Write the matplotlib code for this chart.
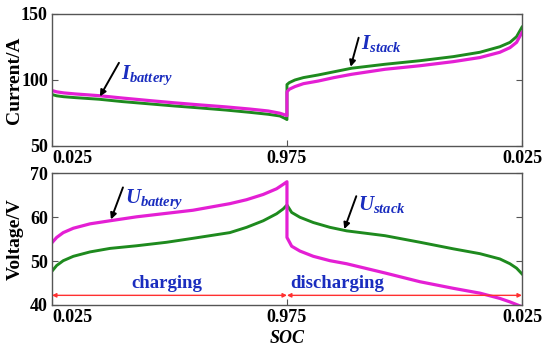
import matplotlib
matplotlib.use("Agg")
import matplotlib.pyplot as plt

# x position: 0 -> 1 is charging (SOC 0.025 -> 0.975), 1 -> 2 is discharging (SOC 0.975 -> 0.025)
tick_pos = [0, 1, 2]
tick_labels = ["0.025", "0.975", "0.025"]

# current panel (A)
i_x = [0, 0.02, 0.05, 0.1, 0.2, 0.3, 0.42, 0.52, 0.63, 0.74, 0.84, 0.92, 0.97, 0.99, 1.0,
       1.0, 1.01, 1.034, 1.07, 1.133, 1.2, 1.275, 1.417, 1.566, 1.708, 1.821, 1.906,
       1.949, 1.977, 2.0]
i_batt = [92.0, 91.0, 90.2, 89.4, 88.1, 86.3, 84.3, 82.7, 81.1, 79.6, 78.0, 76.5, 74.8, 73.6, 73.0,
          91.0, 93.0, 95.0, 97.2, 99.2, 101.8, 104.3, 108.1, 110.8, 113.9, 117.0, 121.0,
          124.5, 128.5, 136.0]
i_stack = [89.0, 88.0, 87.3, 86.6, 85.4, 83.6, 81.8, 80.3, 78.8, 77.2, 75.5, 74.0, 72.7, 71.0, 70.0,
           96.5, 98.0, 100.0, 101.8, 103.8, 106.2, 108.9, 111.9, 114.6, 117.7, 121.0, 125.2,
           128.5, 132.8, 140.0]

# voltage panel (V)
u_batt_x = [0, 0.02, 0.048, 0.091, 0.162, 0.247, 0.36, 0.488, 0.6, 0.757, 0.828, 0.899, 0.956,
            0.984, 1.0, 1.0, 1.02, 1.055, 1.112, 1.183, 1.254, 1.417, 1.566, 1.708, 1.821,
            1.906, 1.949, 2.0]
u_batt = [54.2, 55.4, 56.5, 57.5, 58.5, 59.2, 60.1, 60.9, 61.6, 63.1, 64.0, 65.2, 66.5,
          67.5, 68.1, 55.4, 53.4, 52.3, 51.1, 50.1, 49.4, 47.3, 45.3, 43.8, 42.7,
          41.5, 40.7, 39.6]
u_stack_x = [0, 0.02, 0.048, 0.091, 0.162, 0.247, 0.36, 0.488, 0.6, 0.757, 0.828, 0.899, 0.956,
             0.984, 1.0, 1.02, 1.055, 1.112, 1.183, 1.254, 1.417, 1.566, 1.708, 1.821, 1.906,
             1.949, 1.977, 2.0]
u_stack = [47.7, 49.0, 50.1, 51.1, 52.1, 52.9, 53.5, 54.3, 55.2, 56.5, 57.7, 59.2, 60.8,
           61.9, 62.8, 61.1, 60.0, 58.8, 57.7, 56.9, 55.8, 54.3, 52.8, 51.7, 50.5,
           49.4, 48.4, 47.1]

MAGENTA = "#e41fd4"
GREEN = "#1e8a1e"
BLUE = "#1a2dbf"
SPINE = "#555555"

plt.rcParams["font.family"] = "Liberation Serif"
plt.rcParams["font.weight"] = "bold"
plt.rcParams["mathtext.fontset"] = "custom"
plt.rcParams["mathtext.it"] = "Liberation Serif:italic:bold"
plt.rcParams["mathtext.rm"] = "Liberation Serif:bold"
plt.rcParams["mathtext.sf"] = "Liberation Serif:italic"

fig = plt.figure(figsize=(5.5, 3.5), dpi=100)
ax1 = fig.add_axes([0.0945, 0.583, 0.8545, 0.377])
ax2 = fig.add_axes([0.0945, 0.1286, 0.8545, 0.376])

for ax in (ax1, ax2):
    ax.set_xlim(0, 2)
    ax.set_xticks(tick_pos)
    ax.set_xticklabels(tick_labels)
    ax.tick_params(direction="in", length=4, right=True, labelsize=13,
                   color=SPINE, pad=3)
    for s in ax.spines.values():
        s.set_color(SPINE)
        s.set_linewidth(1)
    for lab in ax.get_xticklabels() + ax.get_yticklabels():
        lab.set_fontweight("bold")
    ax.get_xticklabels()[0].set_horizontalalignment("left")

ax1.plot(i_x, i_stack, color=GREEN, lw=2.1, solid_joinstyle="round")
ax1.plot(i_x, i_batt, color=MAGENTA, lw=2.3, solid_joinstyle="round")
ax1.set_ylim(50, 150)
ax1.set_yticks([50, 100, 150])
ax1.set_ylabel("Current/A", fontsize=14, fontweight="bold", va="center")
ax1.yaxis.set_label_coords(-0.079, 0.5)

ax2.plot(u_stack_x, u_stack, color=GREEN, lw=2.1, solid_joinstyle="round")
ax2.plot(u_batt_x, u_batt, color=MAGENTA, lw=2.3, solid_joinstyle="round")
ax2.set_ylim(40, 70)
ax2.set_yticks([40, 50, 60, 70])
ax2.set_ylabel("Voltage/V", fontsize=14, fontweight="bold", va="center")
ax2.yaxis.set_label_coords(-0.079, 0.5)

arrow = dict(arrowstyle="-|>", color="black", lw=1.4, mutation_scale=9,
             shrinkA=0, shrinkB=0)
ax1.annotate("", xy=(0.204, 87.5), xytext=(0.285, 113), arrowprops=arrow)
ax1.text(0.295, 103.5, r"$I_{\mathsf{battery}}$", color=BLUE, fontsize=15, va="center")
ax1.annotate("", xy=(1.271, 110), xytext=(1.305, 132), arrowprops=arrow)
ax1.text(1.315, 127.5, r"$I_{\mathsf{stack}}$", color=BLUE, fontsize=15, va="center")
ax2.annotate("", xy=(0.251, 59.5), xytext=(0.302, 66.8), arrowprops=arrow)
ax2.text(0.31, 64.2, r"$U_{\mathsf{battery}}$", color=BLUE, fontsize=15, va="center")
ax2.annotate("", xy=(1.244, 57.3), xytext=(1.295, 64.8), arrowprops=arrow)
ax2.text(1.302, 63.0, r"$U_{\mathsf{stack}}$", color=BLUE, fontsize=15, va="center")

red = dict(arrowstyle="<|-|>", color="#ff3030", lw=1.0, mutation_scale=6,
           shrinkA=0, shrinkB=0)
ax2.annotate("", xy=(0, 42.2), xytext=(1, 42.2), arrowprops=red)
ax2.annotate("", xy=(1, 42.2), xytext=(2, 42.2), arrowprops=red)
ax2.text(0.49, 44.8, "charging", color=BLUE, fontsize=13.5, fontweight="bold",
         ha="center", va="center")
ax2.text(1.015, 44.8, "discharging", color=BLUE, fontsize=13.5,
         fontweight="bold", ha="left", va="center")

fig.text(0.522, 0.034, "SOC", fontsize=13, fontweight="bold", style="italic",
         ha="center", va="center")

fig.savefig("out.png", dpi=100)
